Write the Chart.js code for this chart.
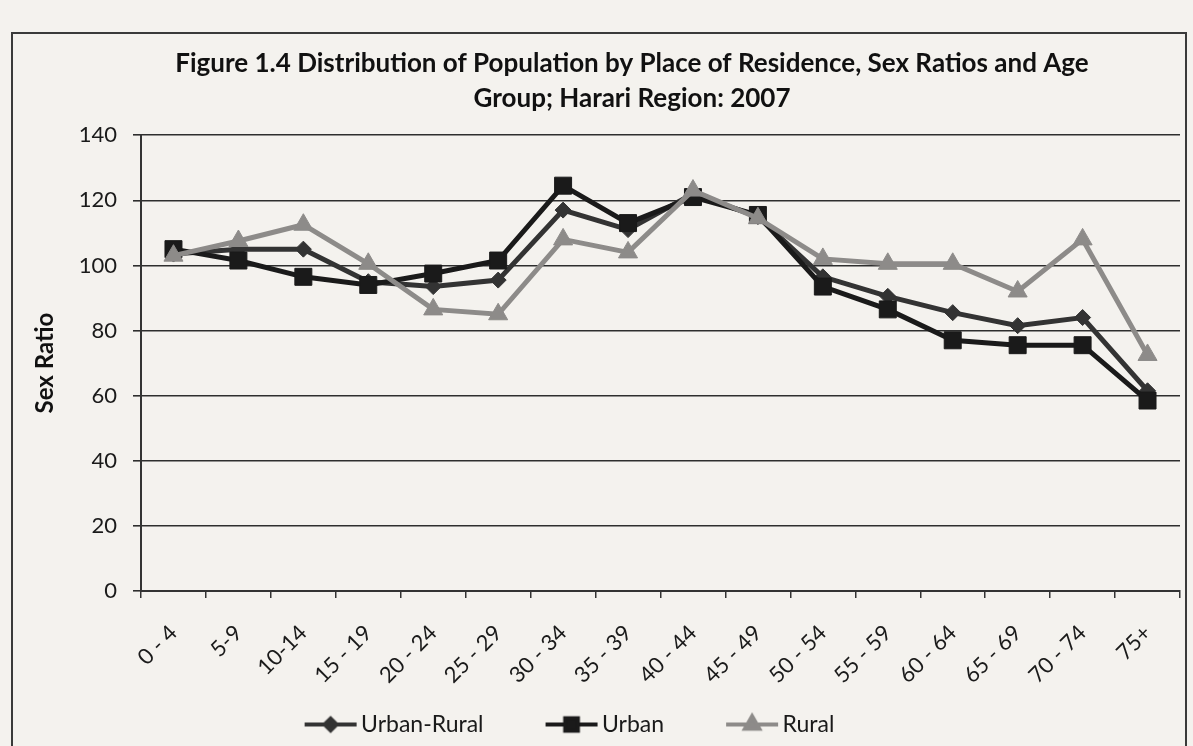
<!DOCTYPE html>
<html>
<head>
<meta charset="utf-8">
<script src="https://cdn.jsdelivr.net/npm/chart.js@4.4.1/dist/chart.umd.min.js"></script>
<style>
  html, body { margin: 0; padding: 0; background: #f4f2ee; }
  #wrap { position: absolute; left: 0; top: 0; width: 1193px; height: 746px; }
  #frame { position: absolute; left: 11px; top: 32px; width: 1172px; height: 730px;
           border: 2px solid #3a3a3a; border-bottom: none; }
</style>
</head>
<body>
<div id="wrap">
  <div id="frame"></div>
  <canvas id="sexRatio" width="1193" height="746"></canvas>
</div>
<script>
// age groups and sex ratios
const ageGroups = ["0 - 4", "5-9", "10-14", "15 - 19", "20 - 24", "25 - 29", "30 - 34", "35 - 39",
  "40 - 44", "45 - 49", "50 - 54", "55 - 59", "60 - 64", "65 - 69", "70 - 74", "75+"];
const urbanRural = [103.5, 105, 105, 95, 93.5, 95.5, 117, 111, 122, 115, 96.5, 90.5, 85.5, 81.5, 84, 61.5];
const urban = [105, 101.5, 96.5, 94, 97.5, 101.5, 124.5, 113, 121, 115.5, 93.5, 86.5, 77, 75.5, 75.5, 58.5];
const rural = [103, 107.5, 112.5, 100.5, 86.5, 85, 108, 104, 123, 114.5, 102, 100.5, 100.5, 92, 108, 72.5];
const yTicks = [0, 20, 40, 60, 80, 100, 120, 140];

const font = "Lato, 'Open Sans', sans-serif";
Chart.defaults.font.family = font;
Chart.defaults.color = "#1a1a1a";

// legend icon: line + marker sitting at the right end of a wider transparent box,
// so the box doubles as the gap between legend entries
const ICON_BOX = 100;
function legendIcon(color, style, r) {
  const c = document.createElement("canvas");
  c.width = ICON_BOX + 16; c.height = 26;
  const g = c.getContext("2d");
  const x0 = c.width - 54;
  g.strokeStyle = color; g.lineWidth = 4;
  g.beginPath(); g.moveTo(x0 + 1, 13); g.lineTo(c.width - 1, 13); g.stroke();
  g.fillStyle = color;
  Chart.helpers.drawPoint(g, { pointStyle: style, radius: r, borderWidth: 1 }, x0 + 27, 13);
  return c;
}

const series = [
  { label: "Urban-Rural", data: urbanRural, color: "#333333", style: "rectRot", r: 8, order: 3 },
  { label: "Urban", data: urban, color: "#1a1a1a", style: "rect", r: 12, order: 2 },
  { label: "Rural", data: rural, color: "#8d8b89", style: "triangle", r: 11, order: 1 },
];

// nudge title and legend so they sit where the original ones do
const blockShift = {
  id: "blockShift",
  afterLayout(chart) {
    const lg = chart.legend;
    lg.left -= 65; lg.right -= 65;
    const tt = chart.titleBlock;
    tt.left += 25; tt.right += 25;
  },
};

const ctx = document.getElementById("sexRatio").getContext("2d");
new Chart(ctx, {
  type: "line",
  data: {
    labels: ageGroups,
    datasets: series.map(s => ({
      label: s.label,
      data: s.data,
      borderColor: s.color,
      backgroundColor: s.color,
      borderWidth: 5,
      pointStyle: s.style,
      pointRadius: s.r,
      pointBorderWidth: 1,
      pointBackgroundColor: s.color,
      pointBorderColor: s.color,
      order: s.order,
      tension: 0,
      icon: legendIcon(s.color, s.style, s.r * 0.75),
    })),
  },
  plugins: [blockShift],
  options: {
    responsive: false,
    animation: false,
    layout: { padding: { left: 31, right: 10, top: 0, bottom: 0 } },
    plugins: {
      title: {
        display: true,
        text: ["Figure 1.4 Distribution of Population by Place of Residence, Sex Ratios and Age",
               "Group; Harari Region: 2007"],
        font: { size: 26, weight: "bold", lineHeight: 1.35 },
        padding: { top: 46, bottom: 19 },
        color: "#111",
      },
      legend: {
        position: "bottom",
        labels: {
          usePointStyle: true,
          pointStyleWidth: ICON_BOX,
          font: { size: 23 },
          padding: 7,
          generateLabels: chart => chart.data.datasets.map((d, i) => ({
            text: d.label,
            pointStyle: d.icon,
            fillStyle: d.borderColor,
            strokeStyle: d.borderColor,
            lineWidth: 0,
            datasetIndex: i,
            fontColor: "#1a1a1a",
          })),
        },
      },
      tooltip: { enabled: false },
    },
    scales: {
      x: {
        offset: true,
        grid: { drawOnChartArea: false, offset: true, tickLength: 7, color: "#333", lineWidth: 1.5 },
        border: { color: "#333", width: 2 },
        ticks: { font: { size: 22 }, maxRotation: 45, minRotation: 45, padding: 22, color: "#1a1a1a" },
        afterFit: s => { s.height = 115; },
      },
      y: {
        min: 0,
        max: 140,
        afterBuildTicks: s => { s.ticks = yTicks.map(v => ({ value: v })); },
        grid: { color: "#2e2e2e", lineWidth: 1.6, tickLength: 8 },
        border: { color: "#333", width: 2 },
        ticks: { font: { size: 22 }, padding: 16, color: "#1a1a1a" },
        title: { display: true, text: "Sex Ratio", font: { size: 24, weight: "bold" }, padding: 0, color: "#111" },
        afterFit: s => { s.width = 110; },
      },
    },
  },
});
</script>
</body>
</html>
